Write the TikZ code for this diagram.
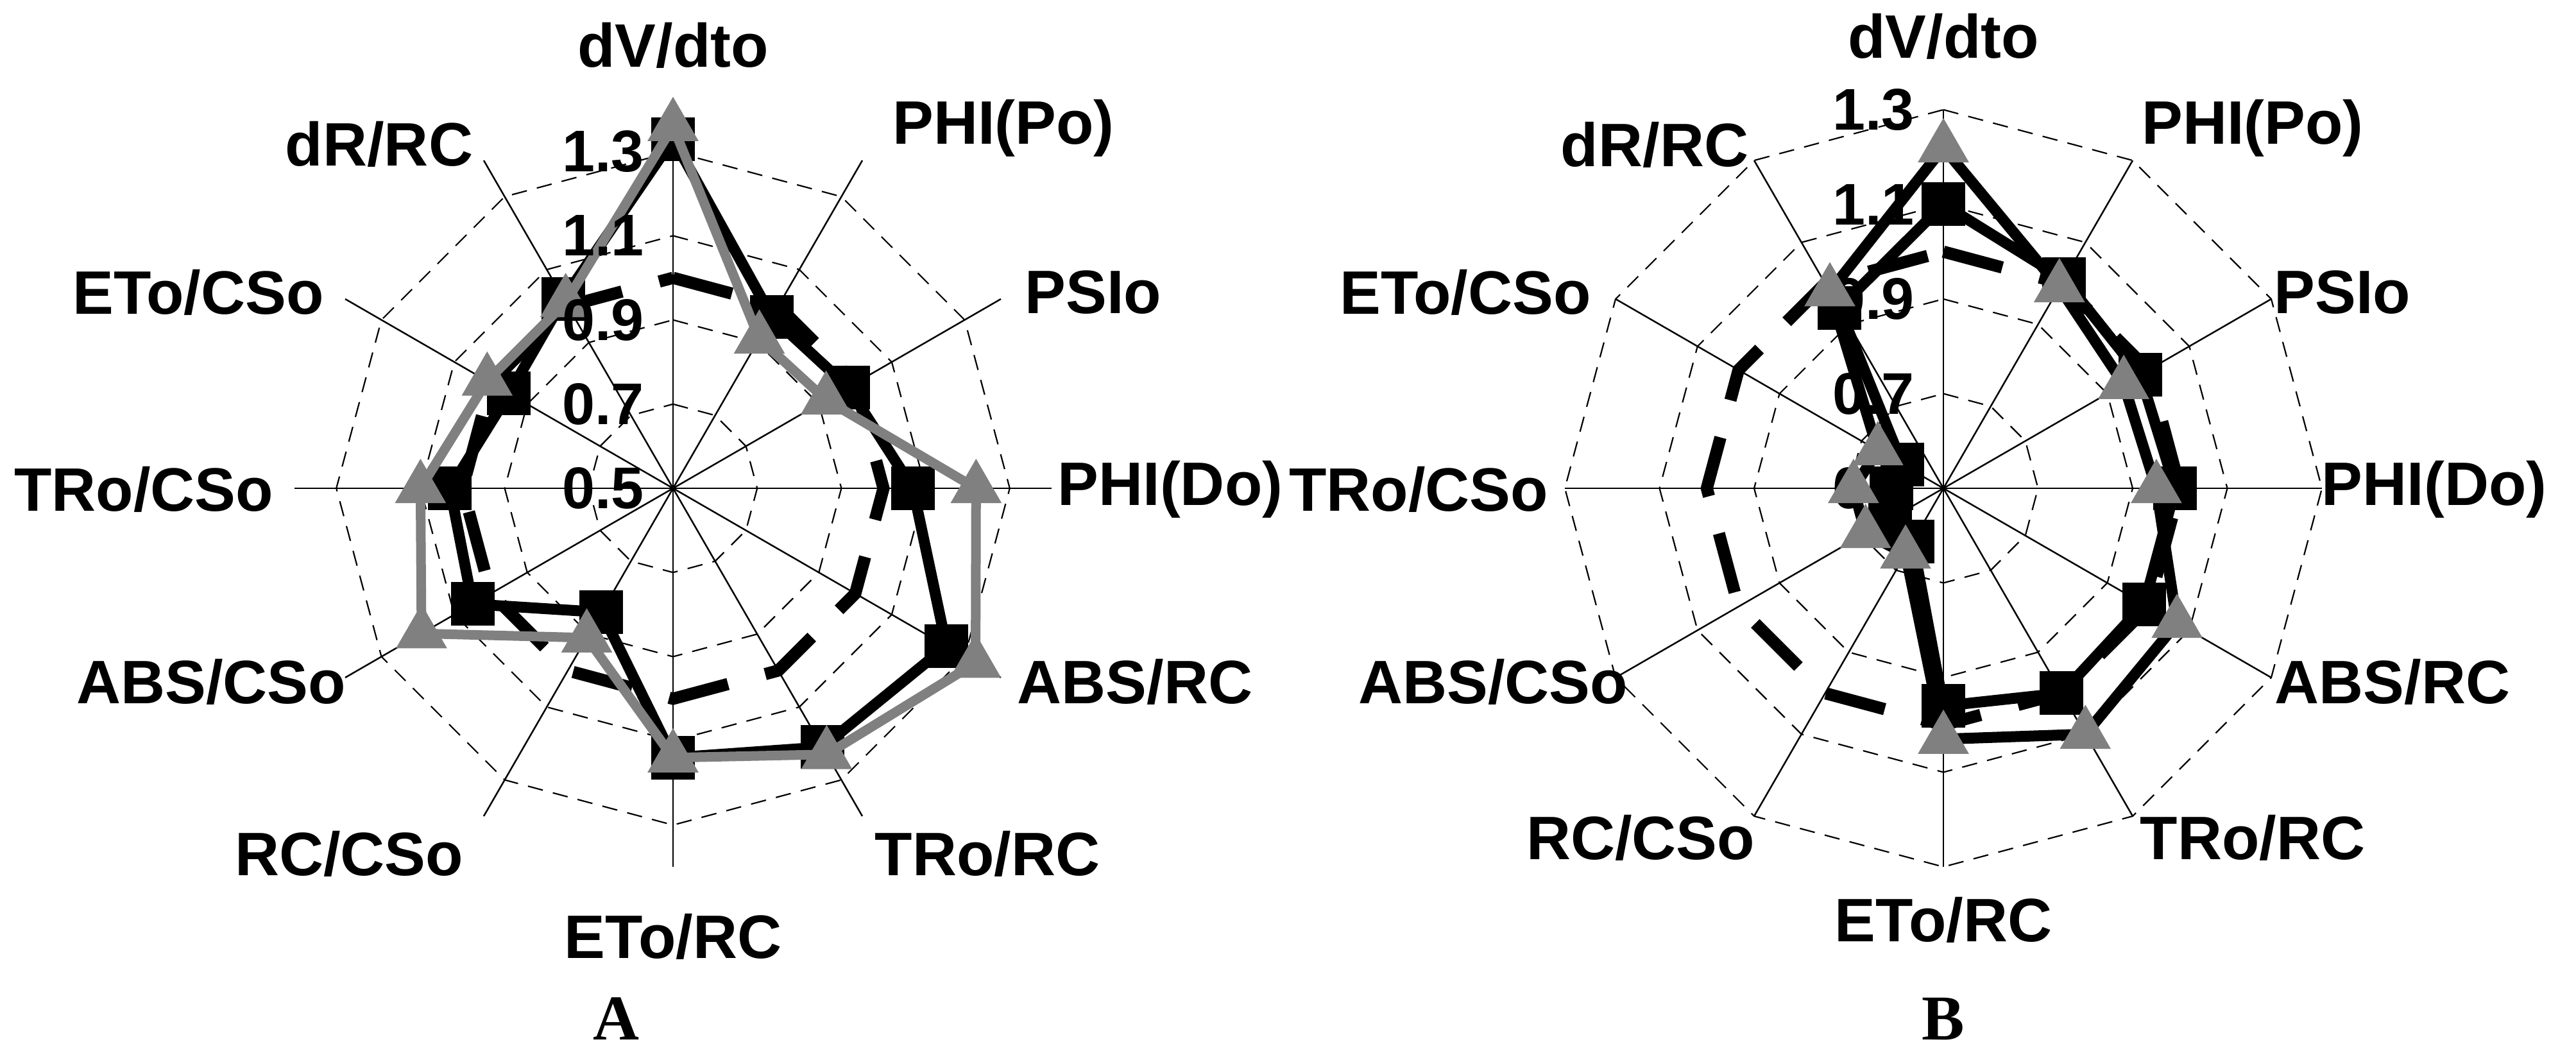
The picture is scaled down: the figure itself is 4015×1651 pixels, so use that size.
\documentclass[tikz,border=0pt]{standalone}
\usepackage{fontspec}
\setmainfont{Liberation Sans}
\newfontfamily\serifb{Liberation Serif}
\usetikzlibrary{shapes.geometric}
\definecolor{mgray}{RGB}{128,128,128}
\tikzset{
  axisline/.style={line width=2.5bp,black},
  ringline/.style={line width=2.2bp,black,dash pattern=on 24bp off 16bp},
  refline/.style={line width=19bp,black,dash pattern=on 95bp off 60bp},
  blackser/.style={line width=17bp,black,line join=round},
  grayser/.style={line width=15bp,mgray,line join=round},
  sqmark/.style={rectangle,fill=black,minimum size=68bp,inner sep=0pt},
  trimark/.style={regular polygon,regular polygon sides=3,fill=mgray,minimum size=92bp,inner sep=0pt},
  axlab/.style={font=\fontsize{96}{110}\selectfont\bfseries,inner sep=0pt},
  ticklab/.style={font=\fontsize{92}{105}\selectfont\bfseries,inner sep=0pt,anchor=east},
  panellab/.style={font=\serifb\fontsize{100}{110}\selectfont\bfseries,inner sep=0pt}
}
\newcommand{\mkpts}[5]{%
  \foreach \v [count=\j from 0] in {#5}{%
    \pgfmathsetmacro\rr{(\v-0.5)*10*#3}%
    \coordinate (#4\j) at ({#1+\rr*sin(30*\j)},{#2-\rr*cos(30*\j)});
  }}
\newcommand{\grid}[4]{%
  \foreach \k in {0,...,11}{
    \coordinate (gc\k) at ({#1+#4*sin(30*\k)},{#2-#4*cos(30*\k)});
  }
  \coordinate (gctr) at (#1,#2);
  \foreach \k in {0,...,11}{ \draw[axisline] (gctr) -- (gc\k); }
  \foreach \val in {0.7,0.9,1.1,1.3}{
    \pgfmathsetmacro\rg{(\val-0.5)*10*#3}
    \draw[ringline] ({#1},{#2-\rg})
      \foreach \k in {1,...,11}{ -- ({#1+\rg*sin(30*\k)},{#2-\rg*cos(30*\k)}) } -- cycle;
  }}
\newcommand{\ticks}[3]{%
  \foreach \val in {0.5,0.7,0.9,1.1,1.3}{
    \pgfmathsetmacro\rg{(\val-0.5)*10*#3}
    \node[ticklab] (tk\val) at ({#1-45},{#2-\rg}) {\val};
  }}
\newcommand{\poly}[2]{%
  \draw[#1] (#20) \foreach \k in {1,...,11}{ -- (#2\k) } -- cycle;}
\begin{document}
\begin{tikzpicture}[x=1bp,y=-1bp]
\useasboundingbox (0,0) rectangle (4015,1651);
\fill[white] (0,0) rectangle (4015,1651);
%% ---------- Chart A ----------
\grid{1049}{761}{65.6}{590}
\mkpts{1049}{761}{65.6}{ar}{1,1,1,1,1,1,1,1,1,1,1,1}
\mkpts{1049}{761}{65.6}{as}{1.33,0.97,0.98,1.07,1.25,1.21,1.14,0.84,1.05,1.03,0.95,1.02}
\mkpts{1049}{761}{65.6}{at}{1.36,0.91,0.92,1.22,1.33,1.23,1.14,0.91,1.19,1.10,1.01,1.01}
\poly{refline}{ar}
\poly{blackser}{as}
\foreach \k in {0,...,11}{ \node[sqmark] (asm\k) at (as\k) {}; }
\poly{grayser}{at}
\foreach \k in {0,...,11}{ \node[trimark] (atm\k) at (at\k) {}; }
\ticks{1049}{761}{65.6}
\begin{scope}[shift={(1049,761)}]
\node[axlab] (a0) at (0,-690) {dV/dto};
\node[axlab] (a1) at (515,-561) {PHI(Po)};
\node[axlab] (a2) at (655,-305) {PSIo};
\node[axlab] (a3) at (775,2) {PHI(Do)};
\node[axlab] (a4) at (720,302) {ABS/RC};
\node[axlab] (a5) at (490,570) {TRo/RC};
\node[axlab] (a6) at (0,699) {ETo/RC};
\node[axlab] (a7) at (-505,570) {RC/CSo};
\node[axlab] (a8) at (-720,302) {ABS/CSo};
\node[axlab] (a9) at (-825,2) {TRo/CSo};
\node[axlab] (a10) at (-740,-305) {ETo/CSo};
\node[axlab] (a11) at (-458,-536) {dR/RC};
\end{scope}
\node[panellab] (pA) at (960,1588) {A};
%% ---------- Chart B ----------
\grid{3029}{761}{73.75}{590}
\ticks{3029}{761}{73.75}
\mkpts{3029}{761}{73.75}{br}{1,1,1,1,1,1,1,1,1,1,1,1}
\mkpts{3029}{761}{73.75}{bs}{1.10,1.01,0.98,0.99,0.99,1.00,0.96,0.63,0.63,0.61,0.60,0.94}
\mkpts{3029}{761}{73.75}{bt}{1.22,0.99,0.94,0.95,1.07,1.10,1.03,0.66,0.69,0.69,0.66,0.98}
\poly{refline}{br}
\poly{blackser}{bs}
\foreach \k in {0,...,11}{ \node[sqmark] (bsm\k) at (bs\k) {}; }
\poly{blackser}{bt}
\foreach \k in {0,...,11}{ \node[trimark] (btm\k) at (bt\k) {}; }
\begin{scope}[shift={(3029,761)}]
\node[axlab] (b0) at (0,-704) {dV/dto};
\node[axlab] (b1) at (482,-561) {PHI(Po)};
\node[axlab] (b2) at (622,-305) {PSIo};
\node[axlab] (b3) at (765,2) {PHI(Do)};
\node[axlab] (b4) at (700,302) {ABS/RC};
\node[axlab] (b5) at (482,545) {TRo/RC};
\node[axlab] (b6) at (0,673) {ETo/RC};
\node[axlab] (b7) at (-472,545) {RC/CSo};
\node[axlab] (b8) at (-702,302) {ABS/CSo};
\node[axlab] (b9) at (-818,2) {TRo/CSo};
\node[axlab] (b10) at (-745,-305) {ETo/CSo};
\node[axlab] (b11) at (-450,-535) {dR/RC};
\end{scope}
\node[panellab] (pB) at (3029,1588) {B};
\end{tikzpicture}
\end{document}
